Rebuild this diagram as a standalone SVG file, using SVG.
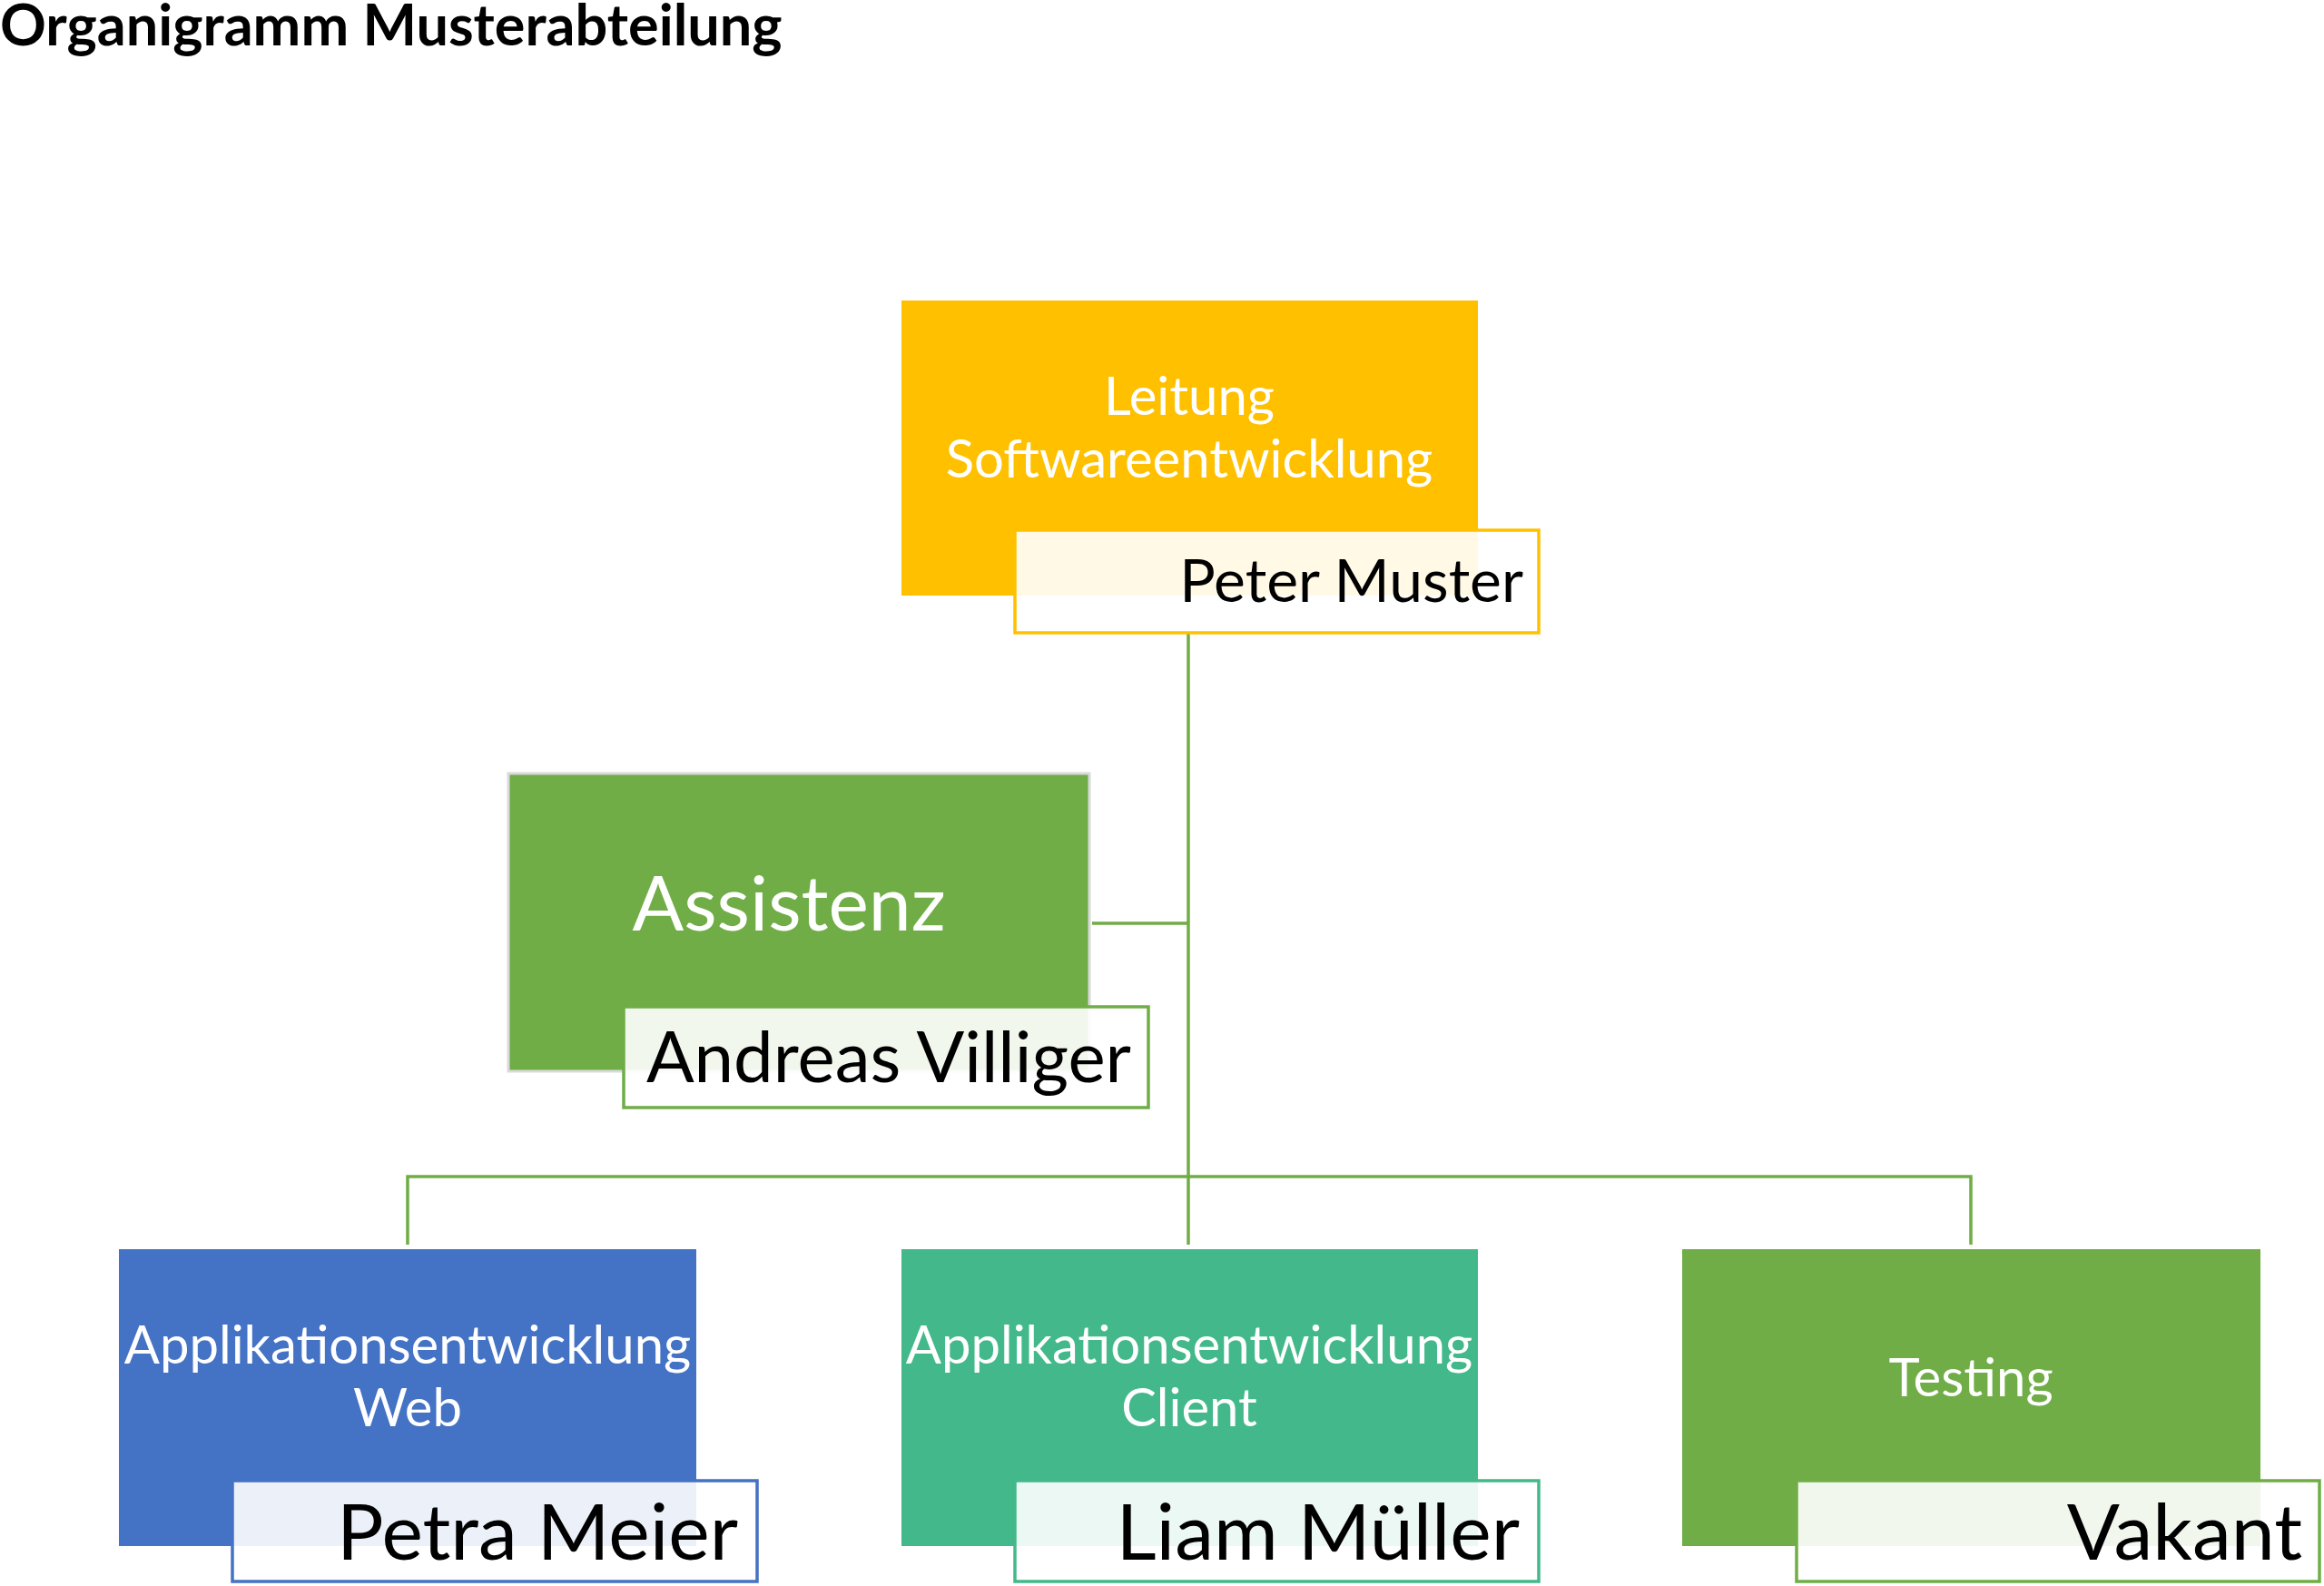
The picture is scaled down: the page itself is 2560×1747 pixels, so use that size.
<svg xmlns="http://www.w3.org/2000/svg" width="2560" height="1747" viewBox="0 0 2560 1747">
<style>
text{font-family:Lato,"Open Sans","Liberation Sans",sans-serif}
.t{fill:#fff;font-size:58px;text-anchor:middle}
.n{fill:#000;font-size:86px;text-anchor:end}
.nb{fill:#fff;fill-opacity:0.9;stroke-width:3.5}
.c{fill:none;stroke:#70AD47;stroke-width:3.5}
</style>
<rect width="2560" height="1747" fill="#fff"/>
<text x="0" y="50" style="font-size:63px;font-weight:bold" fill="#000">Organigramm Musterabteilung</text>
<g id="connectors">
<path class="c" d="M1309 697V1371M1203 1017H1309M449 1371V1296H2171V1371"/>
</g>
<g id="leitung">
<rect x="993" y="331" width="635" height="325" fill="#FFC000"/>
<text class="t" x="1310" y="457">Leitung</text>
<text class="t" x="1310" y="526">Softwareentwicklung</text>
<rect class="nb" x="1118" y="584" width="577" height="113" stroke="#FFC000"/>
<text class="n" x="1678" y="663" style="font-size:66px">Peter Muster</text>
</g>
<g id="assistenz">
<rect x="560" y="852" width="640" height="328" fill="#70AD47" stroke="#d9d9d9" stroke-width="3"/>
<text class="t" x="869" y="1025" style="font-size:84px">Assistenz</text>
<rect class="nb" x="687" y="1109" width="578" height="111" stroke="#70AD47"/>
<text class="n" x="1246" y="1192" style="font-size:78px">Andreas Villiger</text>
</g>
<g id="web">
<rect x="131" y="1376" width="636" height="327" fill="#4472C4"/>
<text class="t" x="449" y="1502">Applikationsentwicklung</text>
<text class="t" x="449" y="1571">Web</text>
<rect class="nb" x="256" y="1631" width="578" height="111" stroke="#4472C4"/>
<text class="n" x="813" y="1718">Petra Meier</text>
</g>
<g id="client">
<rect x="993" y="1376" width="635" height="327" fill="#43B98B"/>
<text class="t" x="1310" y="1502">Applikationsentwicklung</text>
<text class="t" x="1310" y="1571">Client</text>
<rect class="nb" x="1118" y="1631" width="577" height="111" stroke="#43B98B"/>
<text class="n" x="1674" y="1718">Liam Müller</text>
</g>
<g id="testing">
<rect x="1853" y="1376" width="637" height="327" fill="#70AD47"/>
<text class="t" x="2171" y="1538">Testing</text>
<rect class="nb" x="1979" y="1631" width="576" height="111" stroke="#70AD47"/>
<text class="n" x="2536" y="1718">Vakant</text>
</g>
</svg>
